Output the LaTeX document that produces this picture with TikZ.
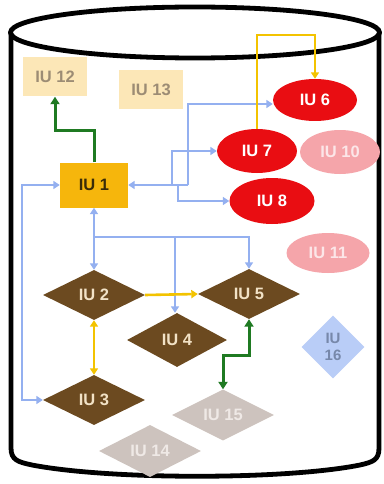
\documentclass[tikz,border=0pt]{standalone}
\usepackage{fontspec}
\setmainfont{Liberation Sans}
\usetikzlibrary{shapes.geometric,arrows.meta}
\definecolor{cylk}{HTML}{000000}
\definecolor{lightor}{HTML}{FCE7B7}
\definecolor{lighttxt}{HTML}{9C8C74}
\definecolor{iuone}{HTML}{F6B60C}
\definecolor{iuonetxt}{HTML}{3A2C08}
\definecolor{redf}{HTML}{E90D12}
\definecolor{pinkf}{HTML}{F5A5AA}
\definecolor{pinktxt}{HTML}{FCE6E8}
\definecolor{brownf}{HTML}{6C4A20}
\definecolor{browntxt}{HTML}{F2E2C6}
\definecolor{grayf}{HTML}{CDC3BE}
\definecolor{graytxt}{HTML}{EFE9E6}
\definecolor{bluef}{HTML}{B9CDF7}
\definecolor{bluetxt}{HTML}{7788AA}
\definecolor{bline}{HTML}{94B0F0}
\definecolor{yline}{HTML}{F3C300}
\definecolor{gline}{HTML}{1F7A22}
\tikzset{
  lbl/.style={font=\fontsize{16.5}{18}\selectfont\bfseries, inner sep=0pt},
  rectbox/.style={lbl, rectangle, minimum width=64pt, minimum height=39pt},
  ellbox/.style={lbl, ellipse, minimum width=84pt, minimum height=42pt, text=white},
  diabox/.style={lbl, diamond, minimum width=102pt, minimum height=50pt},
  blueln/.style={draw=bline, line width=2.2pt, -{Triangle[width=8pt,length=6.5pt]}},
  bluetw/.style={draw=bline, line width=2.2pt, {Triangle[width=8pt,length=6.5pt]}-{Triangle[width=8pt,length=6.5pt]}},
  yellln/.style={draw=yline, line width=2.6pt, -{Triangle[width=8pt,length=6.5pt]}},
  yelltw/.style={draw=yline, line width=2.6pt, {Triangle[width=8pt,length=6.5pt]}-{Triangle[width=8pt,length=6.5pt]}},
  greenln/.style={draw=gline, line width=3pt, -{Triangle[width=9pt,length=7.5pt]}},
  greentw/.style={draw=gline, line width=3pt, {Triangle[width=9pt,length=7.5pt]}-{Triangle[width=9pt,length=7.5pt]}},
  cyl/.style={draw=cylk, line width=4.8pt, line join=round}
}
\begin{document}
\begin{tikzpicture}[x=1pt,y=-1pt]
\useasboundingbox (0,0) rectangle (383,484);
\fill[white] (0,0) rectangle (383,484);
% cylinder
\draw[cyl] (11,33) -- (11,448) .. controls (11,460) and (18,462) .. (32,465)
  .. controls (110,480) and (285,480) .. (360,465)
  .. controls (373,462) and (379,460) .. (379,448) -- (379,33);
\draw[cyl] (195,32.5) ellipse [x radius=184.5, y radius=25.5];
% nodes
\node[rectbox, fill=lightor, text=lighttxt] (IU12) at (55,77) {IU 12};
\node[rectbox, fill=lightor, text=lighttxt] (IU13) at (151,90) {IU 13};
\node[rectbox, fill=iuone, text=iuonetxt, minimum width=68pt, minimum height=45pt] (IU1) at (94,185) {IU 1};
\node[ellbox, fill=redf] (IU6) at (315,100) {IU 6};
\node[ellbox, fill=redf, minimum width=80pt, minimum height=44pt] (IU7) at (257,151) {IU 7};
\node[ellbox, fill=pinkf, text=pinktxt, minimum width=80pt, minimum height=44pt] (IU10) at (340,152) {IU 10};
\node[ellbox, fill=redf, minimum width=85pt, minimum height=46pt] (IU8) at (272,201) {IU 8};
\node[ellbox, fill=pinkf, text=pinktxt, minimum width=83pt, minimum height=40pt] (IU11) at (328,253) {IU 11};
\node[diabox, fill=brownf, text=browntxt] (IU2) at (94,295) {IU 2};
\node[diabox, fill=brownf, text=browntxt] (IU5) at (249,294) {IU 5};
\node[diabox, fill=brownf, text=browntxt, minimum width=100pt, minimum height=54pt] (IU4) at (177,340) {IU 4};
\node[diabox, fill=brownf, text=browntxt] (IU3) at (94,400) {IU 3};
\node[diabox, fill=grayf, text=graytxt] (IU15) at (223,415) {IU 15};
\node[diabox, fill=grayf, text=graytxt, minimum height=52pt] (IU14) at (150,451) {IU 14};
\node[lbl, diamond, fill=bluef, text=bluetxt, minimum width=63pt, minimum height=63pt, align=center, font=\fontsize{15}{17}\selectfont\bfseries] (IU16) at (333,347) {IU\\16};
% coordinates
\coordinate (J1) at (188,185);
\coordinate (J2) at (172,185);
\coordinate (J3) at (178,185);
\coordinate (L1) at (22,185);
\coordinate (L2) at (22,400);
\coordinate (B1) at (94,237);
\coordinate (Y1) at (280,35);
\coordinate (G1) at (75,130);
\coordinate (G2) at (235,355);
% blue connectors
\draw[blueln] (J1) -- (IU1.east);
\draw[blueln] (J1) |- ([yshift=-4pt]IU6.west);
\draw[blueln] (J2) |- (IU7.west);
\draw[blueln] (J3) |- (IU8.west);
\draw[bluetw] (IU1.west) -- (L1) -- (L2) -- (IU3.west);
\draw[bluetw] (IU1.south) -- (IU2.north);
\draw[blueln] (B1) -| (IU5.north);
\draw[blueln] ([xshift=-2pt]IU4.north |- B1) -- ([xshift=-2pt]IU4.north);
% yellow connectors
\draw[yellln] (IU2.east) -- (IU5.west);
\draw[yelltw] (IU2.south) -- (IU3.north);
\draw[yellln] (IU7.north) |- (Y1) -| (IU6.north);
% green connectors
\draw[greenln] (IU1.north) |- (G1) -| (IU12.south);
\draw[greentw] (IU5.south) |- (G2) -| (IU15.north);
\end{tikzpicture}
\end{document}
